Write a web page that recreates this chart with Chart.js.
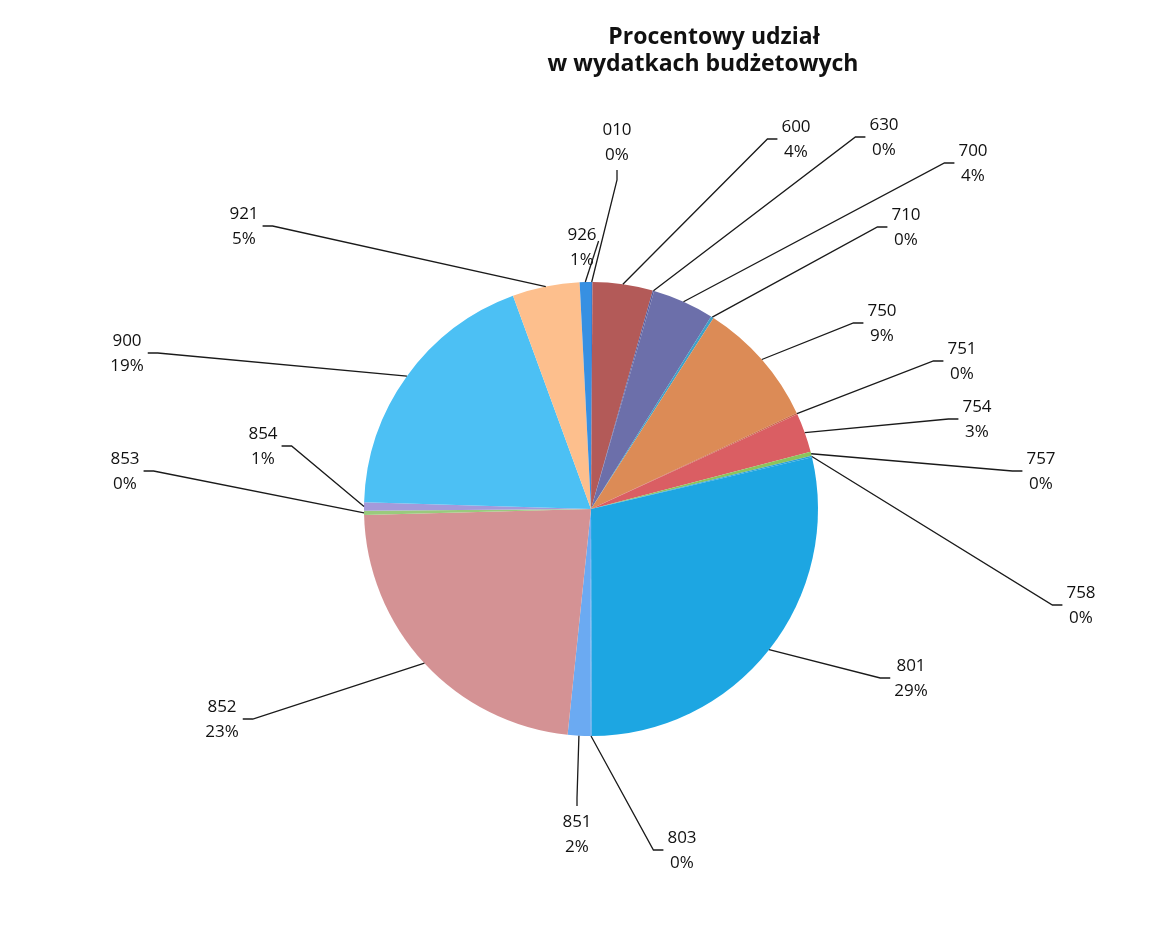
<!DOCTYPE html>
<html>
<head>
<meta charset="utf-8">
<script src="https://cdn.jsdelivr.net/npm/chart.js@4/dist/chart.umd.min.js"></script>
<style>
  body { margin: 0; background: #fff; }
  canvas { display: block; }
</style>
</head>
<body>
<canvas id="budgetPie" width="1169" height="930"></canvas>
<script>
// Data
const sections = ['010', '600', '630', '700', '710', '750', '751', '754', '757', '758',
                  '801', '803', '851', '852', '853', '854', '900', '921', '926'];
const shares = [0.1, 4.3, 0.1, 4.4, 0.2, 9.0, 0.1, 2.8, 0.3, 0.1,
                28.7, 0.1, 1.6, 23.0, 0.3, 0.6, 19.0, 4.8, 0.8];
const sliceColors = ['#3b7fd0', '#b35a58', '#5a5f9e', '#6c6faa', '#3ea0c8', '#dc8b56', '#c9694a', '#da5e63', '#8cc45c', '#2b9fd8',
                     '#1da6e2', '#4a9fe8', '#6baaf2', '#d49294', '#9aca7c', '#a49ada', '#4cc0f4', '#fdbf8d', '#3790e2'];
const titleLines = ['Procentowy udział', 'w wydatkach budżetowych'];

// Layout of the data labels (centre of the two-line block) and side the leader leaves from
const labelSpots = [[617, 142], [796, 139], [884, 137], [973, 163], [906, 227], [882, 323], [962, 361], [977, 419], [1041, 471], [1081, 605],
                    [911, 678], [682, 850], [577, 834], [222, 719], [125, 471], [263, 446], [127, 353], [244, 226], [582, 247]];
const labelSides = ['B', 'L', 'L', 'L', 'L', 'L', 'L', 'L', 'L', 'L',
                    'L', 'L', 'T', 'R', 'R', 'R', 'R', 'R', 'r'];

const total = shares.reduce((a, b) => a + b, 0);

const labelPlugin = {
    id: 'excelLabels',
    afterDraw(chart) {
        const ctx = chart.ctx;
        ctx.save();

        // title
        ctx.fillStyle = '#111';
        ctx.font = "bold 23px 'Open Sans'";
        ctx.textAlign = 'center';
        ctx.textBaseline = 'middle';
        ctx.fillText(titleLines[0], 714, 37);
        ctx.fillText(titleLines[1], 703, 64);

        const arcs = chart.getDatasetMeta(0).data;
        ctx.font = "17px 'Open Sans'";
        arcs.forEach((arc, i) => {
            const [lx, ly] = labelSpots[i];
            const pct = Math.round(shares[i] / total * 100) + '%';
            ctx.fillStyle = '#111';
            ctx.fillText(sections[i], lx, ly - 12);
            ctx.fillText(pct, lx, ly + 13);

            const p = arc.getProps(['x', 'y', 'startAngle', 'endAngle', 'outerRadius'], true);
            const mid = (p.startAngle + p.endAngle) / 2;
            const ax = p.x + Math.cos(mid) * p.outerRadius;
            const ay = p.y + Math.sin(mid) * p.outerRadius;
            const halfW = Math.max(ctx.measureText(sections[i]).width, ctx.measureText(pct).width) / 2;

            const pts = [];
            const side = labelSides[i];
            if (side === 'L') {
                pts.push([lx - halfW - 4, ly], [lx - halfW - 14, ly]);
            } else if (side === 'R') {
                pts.push([lx + halfW + 4, ly], [lx + halfW + 14, ly]);
            } else if (side === 'r') {
                pts.push([lx + halfW + 2, ly - 6]);
            } else if (side === 'B') {
                pts.push([lx, ly + 28], [lx, ly + 38]);
            } else {
                pts.push([lx, ly - 28], [lx, ly - 36]);
            }
            pts.push([ax, ay]);

            ctx.strokeStyle = '#1a1a1a';
            ctx.lineWidth = 1.3;
            ctx.beginPath();
            ctx.moveTo(pts[0][0], pts[0][1]);
            for (let k = 1; k < pts.length; k++) ctx.lineTo(pts[k][0], pts[k][1]);
            ctx.stroke();
        });
        ctx.restore();
    }
};

new Chart(document.getElementById('budgetPie'), {
    type: 'pie',
    data: {
        labels: sections,
        datasets: [{
            data: shares,
            backgroundColor: sliceColors,
            borderWidth: 0
        }]
    },
    options: {
        responsive: false,
        animation: false,
        devicePixelRatio: 1,
        layout: { padding: { top: 282, bottom: 194, left: 364, right: 351 } },
        plugins: {
            legend: { display: false },
            tooltip: { enabled: false },
            title: { display: false }
        }
    },
    plugins: [labelPlugin]
});
</script>
</body>
</html>
